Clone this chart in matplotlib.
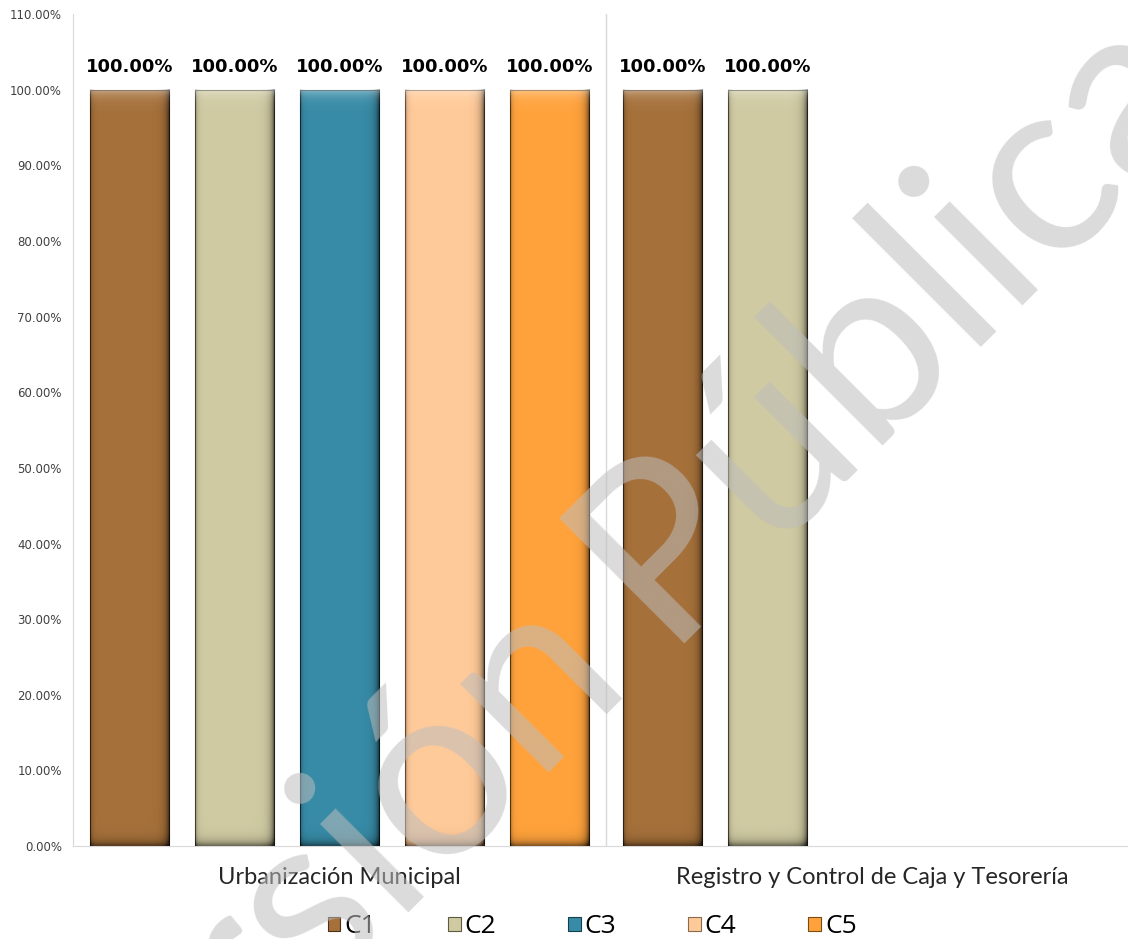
import numpy as np
import matplotlib.pyplot as plt
from matplotlib.ticker import FuncFormatter

# data
categories = ['Urbanización Municipal', 'Registro y Control de Caja y Tesorería']
series = ['C1', 'C2', 'C3', 'C4', 'C5']
c1 = [100.0, 100.0]
c2 = [100.0, 100.0]
c3 = [100.0, np.nan]
c4 = [100.0, np.nan]
c5 = [100.0, np.nan]
values = [c1, c2, c3, c4, c5]

colors = ['#A5703A', '#CFCAA2', '#378BA6', '#FFCA99', '#FFA23C']
edges = ['#4A3018', '#5E5A40', '#163F4C', '#8A6A4C', '#7A4A12']


def bevel(ax, bar):
    # fake the excel "bevel" look with a dark/light overlay on each bar
    x0, w, h = bar.get_x(), bar.get_width(), bar.get_height()
    nx, ny = 80, 400
    xs = np.linspace(0, 1, nx)
    ys = np.linspace(0, 1, ny)[:, None]
    dark = 0.3 * np.exp(-xs / 0.025) + 0.65 * np.exp(-(1 - xs) / 0.045)
    dark = dark[None, :] + 0.45 * np.exp(-ys / 0.006)
    dark = np.clip(dark, 0, 0.8)
    shade = np.zeros((ny, nx, 4))
    shade[..., 3] = dark
    ax.imshow(shade, extent=(x0, x0 + w, 0, h), origin='lower',
              aspect='auto', zorder=3, interpolation='bilinear')
    light = np.zeros((ny, nx, 4))
    light[..., :3] = 1.0
    top = np.exp(-(1 - ys) / 0.008) * np.ones((1, nx))
    light[..., 3] = 0.4 * top
    ax.imshow(light, extent=(x0, x0 + w, 0, h), origin='lower',
              aspect='auto', zorder=3, interpolation='bilinear')


fig = plt.figure(figsize=(11.28, 9.39), dpi=100)
ax = fig.add_axes([0.0647, 0.099, 0.9353, 0.886])

x = np.arange(len(categories))
slot = 0.197
width = 0.15

for i, (name, vals) in enumerate(zip(series, values)):
    pos = x + (i - 2) * slot
    bars = ax.bar(pos, vals, width, color=colors[i], edgecolor=edges[i],
                  linewidth=0.8, label=name, zorder=2)
    for b, v in zip(bars, vals):
        if not np.isnan(v):
            bevel(ax, b)
            ax.text(b.get_x() + b.get_width() / 2, v + 1.8, f'{v:.2f}%',
                    ha='center', va='bottom', fontsize=13, fontweight='bold',
                    family='DejaVu Sans', color='black')

ax.set_ylim(0, 110)
ax.set_yticks(np.arange(0, 111, 10))
ax.yaxis.set_major_formatter(FuncFormatter(lambda v, p: f'{v:.2f}%'))
ax.tick_params(axis='y', length=0, labelsize=8.5, labelcolor='#404040', pad=8)
ax.set_xlim(-0.5, 1.4794)
ax.set_xticks(x)
ax.set_xticklabels(categories, fontsize=17, family='Lato', color='#262626')
ax.tick_params(axis='x', length=0, pad=15)

# separator between categories
ax.axvline(0.5, color='#D9D9D9', linewidth=1, zorder=1)

for s in ['top', 'right']:
    ax.spines[s].set_visible(False)
for s in ['left', 'bottom']:
    ax.spines[s].set_color('#D9D9D9')

leg = fig.legend(loc='center', bbox_to_anchor=(0.525, 0.013), ncol=5,
                 frameon=False, handlelength=0.48, handleheight=0.48,
                 handletextpad=0.15, columnspacing=2.72,
                 prop={'family': 'Open Sans', 'size': 19})

# watermark, drawn in two pieces anchored on the baseline
wm = dict(fontsize=178, family='Lato', color='#BDBDBD',
          alpha=0.55, rotation=45, rotation_mode='anchor', va='baseline',
          zorder=10)
W, H = 1128, 939
fig.text(634 / W, 1 - 686 / H, 'Versión', ha='right', **wm)
fig.text(662 / W, 1 - 644 / H, 'Pública', ha='left', **wm)

fig.savefig('out.png', dpi=100)
